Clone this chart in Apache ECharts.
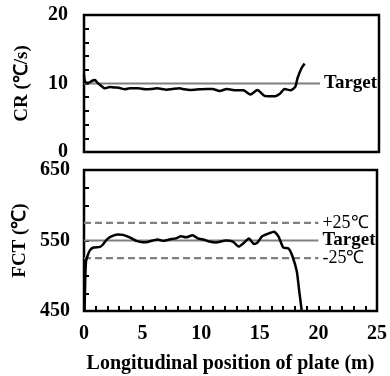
<!DOCTYPE html>
<html><head><meta charset="utf-8">
<script src="https://cdn.jsdelivr.net/npm/echarts@6/dist/echarts.min.js"></script>
<style>html,body{margin:0;padding:0;background:#fff}#c{width:390px;height:376px}</style>
</head><body><div id="c"></div>
<script>
// Cooling rate (CR) along plate: [position m, value ℃/s]
const crData = [[0,11.3],[0.1,10.2],[0.4,10.1],[0.7,10.4],[0.93,10.5],[1.15,10.1],[1.36,9.8],[1.78,9.3],[2.2,9.5],[2.77,9.4],[3.1,9.3],[3.47,9.15],[3.9,9.3],[4.6,9.3],[5.2,9.15],[5.7,9.2],[6.2,9.3],[7.0,9.1],[7.5,9.2],[8.1,9.3],[8.5,9.15],[9.0,9.05],[9.8,9.15],[10.4,9.2],[10.9,9.2],[11.5,8.9],[12.1,9.2],[12.9,9.0],[13.5,9.0],[14.1,8.4],[14.7,9.05],[15.3,8.2],[15.8,8.15],[16.2,8.15],[16.6,8.5],[17.0,9.2],[17.5,9.0],[17.9,9.5],[18.1,10.8],[18.45,12.3],[18.7,12.9]];
// Finish cooling temperature (FCT) along plate: [position m, ℃]
const fctData = [[0.05,450],[0.1,490],[0.17,520],[0.3,528],[0.5,536],[0.8,540],[1.36,541],[1.6,544],[1.92,551],[2.34,556],[2.9,558.5],[3.33,558],[3.9,554.5],[4.47,549.5],[5.03,547.5],[5.45,548],[5.87,550],[6.3,551.5],[6.72,549.5],[7.29,551.5],[7.85,553],[8.27,556],[8.7,554.5],[9.27,557.5],[9.7,553],[10.25,551],[10.7,548.5],[11.25,547],[12.1,550],[12.7,548.5],[13.2,541.5],[13.6,546],[14.07,553],[14.5,545],[14.8,547],[15.2,556],[15.76,560],[16.2,562.5],[16.6,555.5],[17.0,540],[17.46,538.5],[17.8,527],[18.16,506],[18.35,480],[18.58,450]];
const crTarget = 10;
const fctTarget = 550;
const fctTol = 25;
const refStart = 0, refEnd = 20;
const xTicks = [0,5,10,15,20,25];
const crTicks = [0,10,20];
const fctTicks = [450,550,650];

const FONT = '"Liberation Serif","Times New Roman",serif';
const chart = echarts.init(document.getElementById('c'));
const tickStyle = {show:true, inside:true, length:5, lineStyle:{color:'#000', width:2}};
function refSeries(xi, yi, y, color, type, label, bold){
  return {type:'line', xAxisIndex:xi, yAxisIndex:yi, data:[[refStart,y],[refEnd,y]], symbol:'none', silent:true,
    lineStyle:{color:color, width:2.2, type:type}, z:1,
    endLabel:{show:true, formatter:label, color:'#000', fontFamily:FONT, fontSize:bold?19:18, fontWeight:bold?'bold':'normal', distance:4}};
}
chart.setOption({
  animation:false,
  grid:[
    {left:84, top:15, width:295, height:137, show:true, borderColor:'#000', borderWidth:2.5, backgroundColor:'transparent'},
    {left:84, top:170, width:295, height:141, show:true, borderColor:'#000', borderWidth:2.5, backgroundColor:'transparent'}
  ],
  xAxis:[
    {type:'value', gridIndex:0, min:0, max:25, interval:1, axisLine:{show:false}, axisTick:{show:false}, axisLabel:{show:false}, splitLine:{show:false}},
    {type:'value', gridIndex:1, min:0, max:25, interval:1, axisLine:{show:false}, axisTick:tickStyle,
     axisLabel:{color:'#000', fontFamily:FONT, fontSize:20, fontWeight:'bold', margin:13, formatter:v=>xTicks.includes(v)?String(v):''},
     splitLine:{show:false},
     name:'Longitudinal position of plate (m)', nameLocation:'middle', nameGap:43,
     nameTextStyle:{color:'#000', fontFamily:FONT, fontSize:20, fontWeight:'bold'}}
  ],
  yAxis:[
    {type:'value', gridIndex:0, min:0, max:20, interval:2, axisLine:{show:false}, axisTick:tickStyle,
     axisLabel:{color:'#000', fontFamily:FONT, fontSize:20, fontWeight:'bold', margin:16, formatter:v=>crTicks.includes(v)?String(v):''},
     splitLine:{show:false},
     name:'CR (℃/s)', nameLocation:'middle', nameGap:52,
     nameTextStyle:{color:'#000', fontFamily:FONT, fontSize:19, fontWeight:'bold'}},
    {type:'value', gridIndex:1, min:450, max:650, interval:25, axisLine:{show:false}, axisTick:tickStyle,
     axisLabel:{color:'#000', fontFamily:FONT, fontSize:20, fontWeight:'bold', margin:14, formatter:v=>fctTicks.includes(v)?String(v):''},
     splitLine:{show:false},
     name:'FCT (℃)', nameLocation:'middle', nameGap:52,
     nameTextStyle:{color:'#000', fontFamily:FONT, fontSize:19, fontWeight:'bold'}}
  ],
  series:[
    refSeries(0,0,crTarget,'#808080','solid','Target',true),
    {type:'line', xAxisIndex:0, yAxisIndex:0, data:crData, symbol:'none', smooth:0.2, lineStyle:{color:'#000', width:2.5}, z:3},
    refSeries(1,1,fctTarget+fctTol,'#808080',[7,4],'+25℃',false),
    refSeries(1,1,fctTarget,'#808080','solid','Target',true),
    refSeries(1,1,fctTarget-fctTol,'#808080',[7,4],'-25℃',false),
    {type:'line', xAxisIndex:1, yAxisIndex:1, data:fctData, symbol:'none', smooth:0.2, lineStyle:{color:'#000', width:2.5}, z:3}
  ]
});
</script></body></html>
